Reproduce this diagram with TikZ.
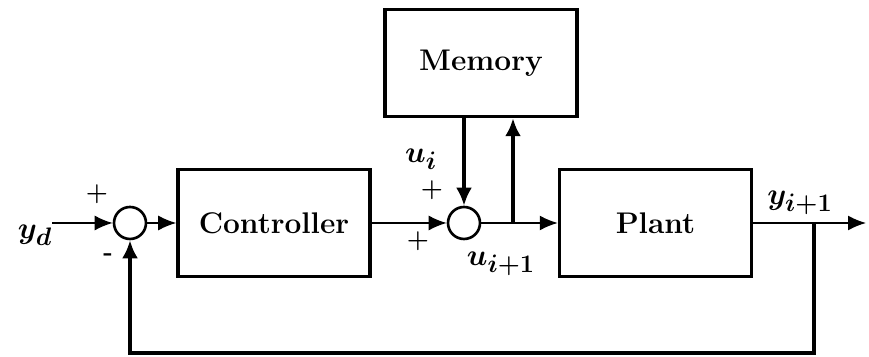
\documentclass[tikz,border=0pt]{standalone}
\usepackage{amsmath,amssymb}
\usepackage{bm}
\usepackage{tikz}
\usetikzlibrary{arrows.meta}
\usetikzlibrary{positioning}

\begin{document}
\begin{tikzpicture}[
    block/.style={rectangle, draw, line width=2pt, minimum width=3.84cm, minimum height=2.14cm, font=\fontsize{17}{20}\selectfont\bfseries},
    sum/.style={circle, draw, line width=1.5pt, minimum size=0.64cm, inner sep=0pt},
    thin signal/.style={line width=0.9pt, -{Latex[length=0.36cm, width=0.3cm]}},
    thick signal/.style={line width=2pt, -{Latex[length=0.36cm, width=0.32cm]}},
    sig label/.style={font=\fontsize{19}{22}\selectfont},
    sign/.style={font=\Large\bfseries},
  ]
  \useasboundingbox (0,0) rectangle (17.38,7.14);

  % Blocks
  \node[block] (Memory) at (9.62, 5.88) {Memory};
  \node[block] (Controller) at (5.48, 2.68) {Controller};
  \node[block] (Plant) at (13.11, 2.68) {Plant};

  % Summing junctions
  \node[sum] (S1) at (2.60, 2.68) {};
  \node[sum] (S2) at (9.28, 2.68) {};

  % Free ends and branch points
  \coordinate (in) at (1.04, 2.68);
  \coordinate (tap) at (10.26, 2.68);
  \coordinate (branch) at (16.28, 2.68);
  \coordinate (out) at (17.32, 2.68);
  \coordinate (fb) at (16.28, 0.08);

  % Forward path
  \draw[thin signal] (in) -- (S1);
  \draw[thin signal] (S1) -- (Controller);
  \draw[thin signal] (Controller) -- (S2);
  \draw[thin signal] (S2) -- (Plant);
  \draw[thin signal] (Plant) -- (out);

  % Memory loop
  \draw[thick signal] (Memory.south -| S2) -- (S2);
  \draw[thick signal] (tap) -- (tap |- Memory.south);

  % Feedback
  \draw[thick signal] (branch) -- (fb) -| (S1);

  % Labels
  \node[sig label] (yd) at (0.70, 2.44) {$\bm{y_{d}}$};
  \node[sign] (p1) at (1.94, 3.26) {+};
  \node[sign] (m1) at (2.16, 2.0) {-};
  \node[sig label] (ui) at (8.42, 3.96) {$\bm{u_{i}}$};
  \node[sign] (p2) at (8.64, 3.34) {+};
  \node[sign] (p3) at (8.36, 2.32) {+};
  \node[sig label] (ui1) at (10.02, 1.86) {$\bm{u_{i+1}}$};
  \node[sig label] (yi1) at (16.0, 3.08) {$\bm{y_{i+1}}$};

  \end{tikzpicture}
\end{document}
